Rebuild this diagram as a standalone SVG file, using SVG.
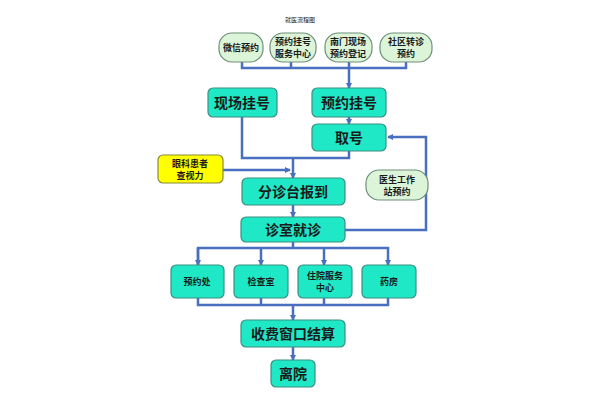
<svg xmlns="http://www.w3.org/2000/svg" width="600" height="400" viewBox="0 0 600 400">
<style>
.t{fill:#1fe8c6;stroke:#3b8f80;stroke-width:1.2}
.o{fill:#dcf5d8;stroke:#6f8f7a;stroke-width:1.2}
.y{fill:#ffff00;stroke:#8a8a3a;stroke-width:1.2}
text{font-family:"Noto Sans CJK SC",sans-serif;fill:#1a1a1a;text-anchor:middle;font-weight:bold}
.l{font-size:14px}.s{font-size:9px}
.c path{fill:none;stroke:#4a6fbf;stroke-width:2.5}
</style>
<defs><marker id="a" markerWidth="6" markerHeight="6" refX="5" refY="3" orient="auto" markerUnits="userSpaceOnUse"><path d="M0,0L6,3L0,6z" fill="#4a6fbf"/></marker></defs>
<rect width="600" height="400" fill="#fff"/>
<text x="300" y="22" style="font-size:6px;font-weight:normal">就医流程图</text>
<g class="c">
<path d="M242,62V68H406V62M291,62V68M349,62V88" marker-end="url(#a)"/>
<path d="M349,117V124" marker-end="url(#a)"/>
<path d="M242,117V158H349V151M293,158V178" marker-end="url(#a)"/>
<path d="M223,170H290" marker-end="url(#a)"/>
<path d="M293,205V217" marker-end="url(#a)"/>
<path d="M345,230H426V137H388" marker-end="url(#a)"/>
<path d="M293,242V248"/>
<path d="M198,265V248H388V265" marker-end="url(#a)"/>
<path d="M198,248V265" marker-end="url(#a)"/>
<path d="M261,248V265" marker-end="url(#a)"/>
<path d="M324,248V265" marker-end="url(#a)"/>
<path d="M198,298V305H388V298M261,298V305M324,298V305M293,305V320" marker-end="url(#a)"/>
<path d="M293,347V360" marker-end="url(#a)"/>
</g>
<g id="n1"><rect class="o" x="219" y="33" width="44" height="29" rx="13"/><text class="s" x="241" y="51">微信预约</text></g>
<g id="n2"><rect class="o" x="270" y="33" width="46" height="29" rx="13"/><text class="s" x="293" y="45">预约挂号</text><text class="s" x="293" y="57">服务中心</text></g>
<g id="n3"><rect class="o" x="325" y="33" width="47" height="29" rx="13"/><text class="s" x="348" y="45">南门现场</text><text class="s" x="348" y="57">预约登记</text></g>
<g id="n4"><rect class="o" x="380" y="33" width="52" height="29" rx="13"/><text class="s" x="406" y="45">社区转诊</text><text class="s" x="406" y="57">预约</text></g>
<g id="n5"><rect class="t" x="208" y="88" width="69" height="29" rx="5"/><text class="l" x="242" y="108">现场挂号</text></g>
<g id="n6"><rect class="t" x="312" y="88" width="74" height="29" rx="5"/><text class="l" x="349" y="108">预约挂号</text></g>
<g id="n7"><rect class="t" x="312" y="124" width="74" height="27" rx="5"/><text class="l" x="349" y="143">取号</text></g>
<g id="n8"><rect class="y" x="158" y="155" width="65" height="28" rx="5"/><text class="s" x="190" y="167">眼科患者</text><text class="s" x="190" y="179">查视力</text></g>
<g id="n9"><rect class="t" x="242" y="178" width="103" height="27" rx="5"/><text class="l" x="293" y="197">分诊台报到</text></g>
<g id="n10"><rect class="o" x="366" y="170" width="62" height="30" rx="13"/><text class="s" x="397" y="183">医生工作</text><text class="s" x="397" y="195">站预约</text></g>
<g id="n11"><rect class="t" x="241" y="217" width="104" height="25" rx="5"/><text class="l" x="293" y="235">诊室就诊</text></g>
<g id="n12"><rect class="t" x="171" y="265" width="53" height="33" rx="5"/><text class="s" x="197" y="285">预约处</text></g>
<g id="n13"><rect class="t" x="234" y="265" width="54" height="33" rx="5"/><text class="s" x="261" y="285">检查室</text></g>
<g id="n14"><rect class="t" x="298" y="265" width="54" height="33" rx="5"/><text class="s" x="325" y="279">住院服务</text><text class="s" x="325" y="291">中心</text></g>
<g id="n15"><rect class="t" x="362" y="265" width="54" height="33" rx="5"/><text class="s" x="389" y="285">药房</text></g>
<g id="n16"><rect class="t" x="241" y="320" width="104" height="27" rx="5"/><text class="l" x="293" y="339">收费窗口结算</text></g>
<g id="n17"><rect class="t" x="271" y="360" width="44" height="27" rx="5"/><text class="l" x="293" y="379">离院</text></g>
</svg>
